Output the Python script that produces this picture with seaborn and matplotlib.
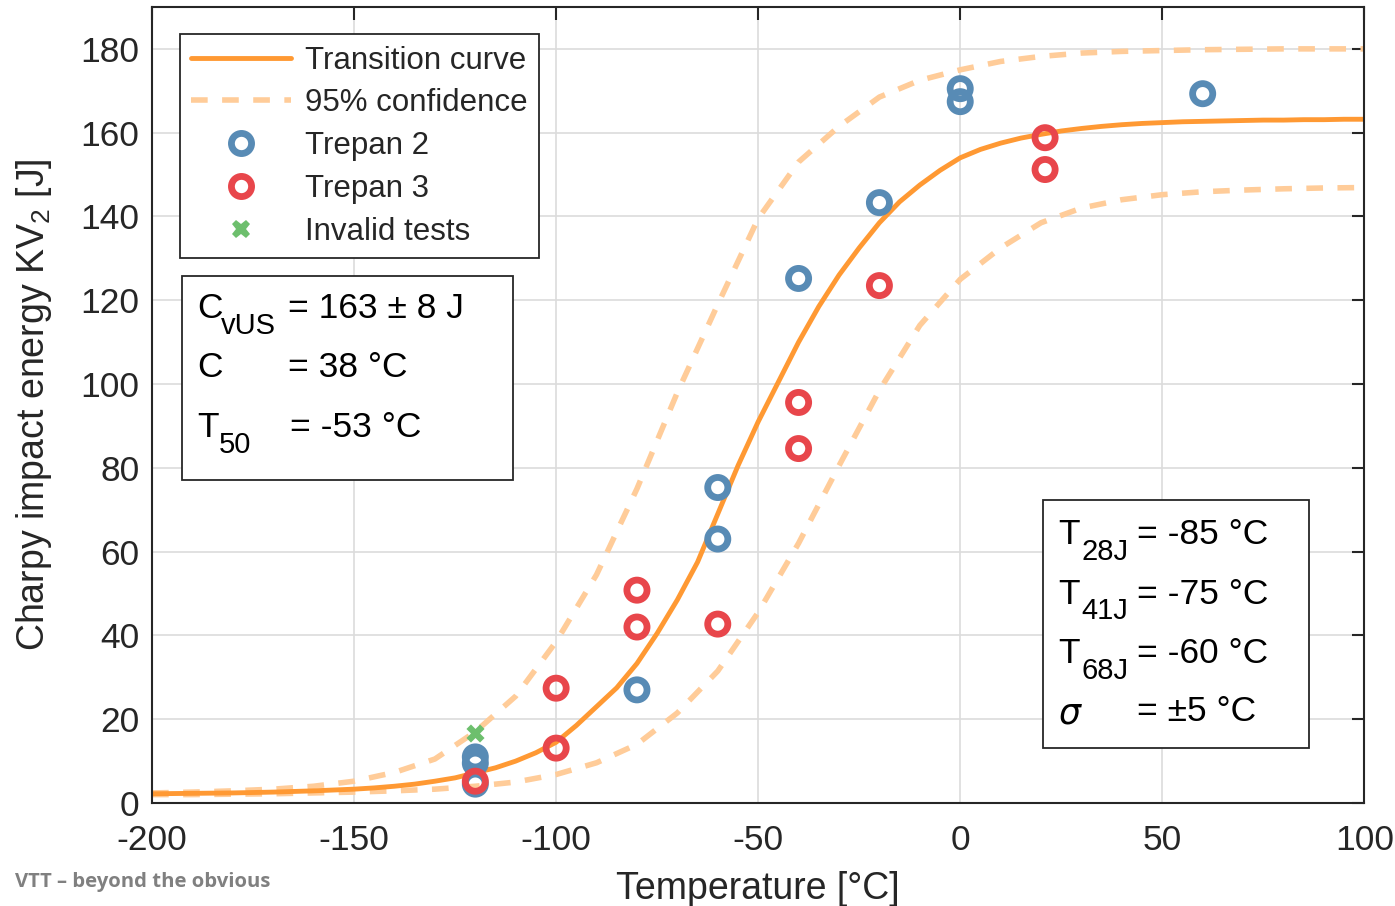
import numpy as np
import pandas as pd
import seaborn as sns
import matplotlib.pyplot as plt
from matplotlib.lines import Line2D
from matplotlib.patches import Rectangle

# Transition curve, every 5 degC
temp5 = list(range(-200, 101, 5))
curve = [2.2, 2.25, 2.3, 2.35, 2.4, 2.5, 2.6, 2.75, 2.9, 3.1, 3.3, 3.6, 4.0, 4.5, 5.2,
         6.0, 7.2, 8.4, 10.0, 12.0, 14.5, 18.5, 23.0, 27.5, 33.3, 40.5, 48.5, 57.5, 69.0,
         80.5, 91.0, 100.5, 110.0, 118.5, 126.0, 132.5, 138.5, 143.5, 147.5, 151.0, 154.0,
         156.0, 157.5, 158.7, 159.6, 160.4, 161.0, 161.5, 161.9, 162.2, 162.4, 162.6,
         162.7, 162.8, 162.9, 163.0, 163.0, 163.1, 163.1, 163.2, 163.2]

# 95% confidence bounds, every 10 degC
temp10 = list(range(-200, 101, 10))
upper = [2.4, 2.6, 2.9, 3.3, 4.0, 5.2, 7.3, 10.5, 17.0, 25.5, 38.5, 54.5, 75.0, 98.0, 119.0,
         139.5, 153.0, 161.5, 168.5, 172.5, 175.0, 177.0, 178.2, 179.0, 179.4, 179.6,
         179.8, 179.9, 180.0, 180.0, 180.0]
lower = [2.0, 2.0, 2.1, 2.2, 2.4, 2.6, 2.9, 3.3, 4.0, 5.0, 6.8, 9.6, 14.0, 21.5, 31.5,
         45.5, 62.0, 80.5, 98.5, 114.0, 125.0, 132.5, 138.5, 142.0, 144.0, 145.2,
         145.9, 146.3, 146.6, 146.8, 146.9]

# Test results
t2_temp = [-120, -120, -120, -80, -60, -60, -40, -20, 0, 0, 60]
t2_kv = [11.0, 9.5, 4.5, 27.0, 63.0, 75.3, 125.2, 143.3, 170.5, 167.4, 169.3]
t3_temp = [-120, -100, -100, -80, -80, -60, -40, -40, -20, 21, 21]
t3_kv = [5.2, 13.1, 27.4, 42.0, 50.8, 42.7, 84.6, 95.6, 123.5, 158.8, 151.2]
inv_temp = [-120]
inv_kv = [16.7]

orange = "#ff9933"
light = "#ffcc99"
blue = "#588bb5"
red = "#e8464b"
green = "#6dbf6d"
dark = "#262626"

sns.set_theme(style="whitegrid")
plt.rcParams['font.family'] = ['Liberation Sans', 'DejaVu Sans']
plt.rcParams['axes.unicode_minus'] = False

fig = plt.figure(figsize=(13.95, 9.06), dpi=100)
ax = fig.add_axes([0.109, 0.1137, 0.869, 0.8786])

bounds = pd.DataFrame({"T": temp10, "upper": upper, "lower": lower})
main = pd.DataFrame({"T": temp5, "curve": curve})
sns.lineplot(data=bounds, x="T", y="upper", color=light, lw=4, ls=(0, (3, 2.6)), ax=ax)
sns.lineplot(data=bounds, x="T", y="lower", color=light, lw=4, ls=(0, (3, 2.6)), ax=ax)
sns.lineplot(data=main, x="T", y="curve", color=orange, lw=3.5, ax=ax)

sns.scatterplot(x=t2_temp, y=t2_kv, marker="o", s=210, facecolor="none",
                edgecolor=blue, linewidth=4.9, ax=ax, zorder=4)
sns.scatterplot(x=t3_temp, y=t3_kv, marker="o", s=210, facecolor="none",
                edgecolor=red, linewidth=4.9, ax=ax, zorder=5)
sns.scatterplot(x=inv_temp, y=inv_kv, marker="X", s=170, color=green,
                linewidth=0, ax=ax, zorder=6)

ax.set_xlim(-200, 100)
ax.set_ylim(0, 190)
ax.set_xticks(range(-200, 101, 50))
ax.set_yticks(range(0, 181, 20))
ax.grid(True, color="#dcdcdc", lw=1.2)
ax.tick_params(direction="in", length=9, width=1.5, colors=dark, labelsize=25.5,
               top=True, right=True)
ax.tick_params(axis="x", pad=15)
ax.tick_params(axis="y", pad=9)
for s in ax.spines.values():
    s.set_color(dark)
    s.set_linewidth(1.5)
ax.set_xlabel("Temperature [°C]", fontsize=27, color=dark, labelpad=10)
ax.set_ylabel("Charpy impact energy KV$_{\\mathregular{2}}$ [J]", fontsize=27, color=dark, labelpad=19)

handles = [
    Line2D([], [], color=orange, lw=3.5),
    Line2D([], [], color=light, lw=4, ls=(0, (3, 2.6))),
    Line2D([], [], ls="none", marker="o", ms=14.5, mfc="none", mec=blue, mew=4.9),
    Line2D([], [], ls="none", marker="o", ms=14.5, mfc="none", mec=red, mew=4.9),
    Line2D([], [], ls="none", marker="X", ms=13, color=green, mew=0),
]
labels = ["Transition curve", "95% confidence", "Trepan 2", "Trepan 3", "Invalid tests"]
leg = ax.legend(handles, labels, loc="upper left", bbox_to_anchor=(0.0231, 0.9657),
                fontsize=22.5, frameon=True, fancybox=False, handlelength=3.2,
                handletextpad=0.45, labelspacing=0.41, borderpad=0.36, borderaxespad=0)
leg.get_frame().set_edgecolor(dark)
leg.get_frame().set_linewidth(1.3)
leg.get_frame().set_alpha(1)


def px(x, y):
    return (x - 152) / 1212, (803 - y) / 796


def box(x0, y0, x1, y1):
    a, b = px(x0, y1)
    c, d = px(x1, y0)
    ax.add_patch(Rectangle((a, b), c - a, d - b, transform=ax.transAxes, fill=True,
                           facecolor="white", edgecolor=dark, lw=1.3, zorder=7))


def put(x, y, s, size=25.5, **kw):
    a, b = px(x, y)
    ax.text(a, b, s, transform=ax.transAxes, fontsize=size, color="black",
            va="center", ha="left", zorder=8, **kw)


box(182, 276, 513, 480)
put(197, 309, "C")
put(221, 326, "vUS", 21)
put(288, 309, "= 163 ± 8 J")
put(197, 368, "C")
put(288, 368, "= 38 °C")
put(197, 428, "T")
put(219, 445, "50", 21)
put(290, 428, "= -53 °C")

box(1043, 500, 1309, 748)
rows = [("28J", "= -85 °C"), ("41J", "= -75 °C"), ("68J", "= -60 °C")]
for i, (sub, val) in enumerate(rows):
    y = 535 + i * 59.5
    put(1058, y, "T")
    put(1081, y + 17, sub, 21)
    put(1137, y, val)
put(1058, 714, "$\\sigma$", 25)
put(1137, 712, "= ±5 °C")

fig.text(15 / 1395, 1 - 882 / 906, "VTT – beyond the obvious", fontsize=14.6,
         color="#808080", fontweight="bold", family=["Open Sans", "DejaVu Sans"], va="center")

fig.savefig("out.png", dpi=100)
